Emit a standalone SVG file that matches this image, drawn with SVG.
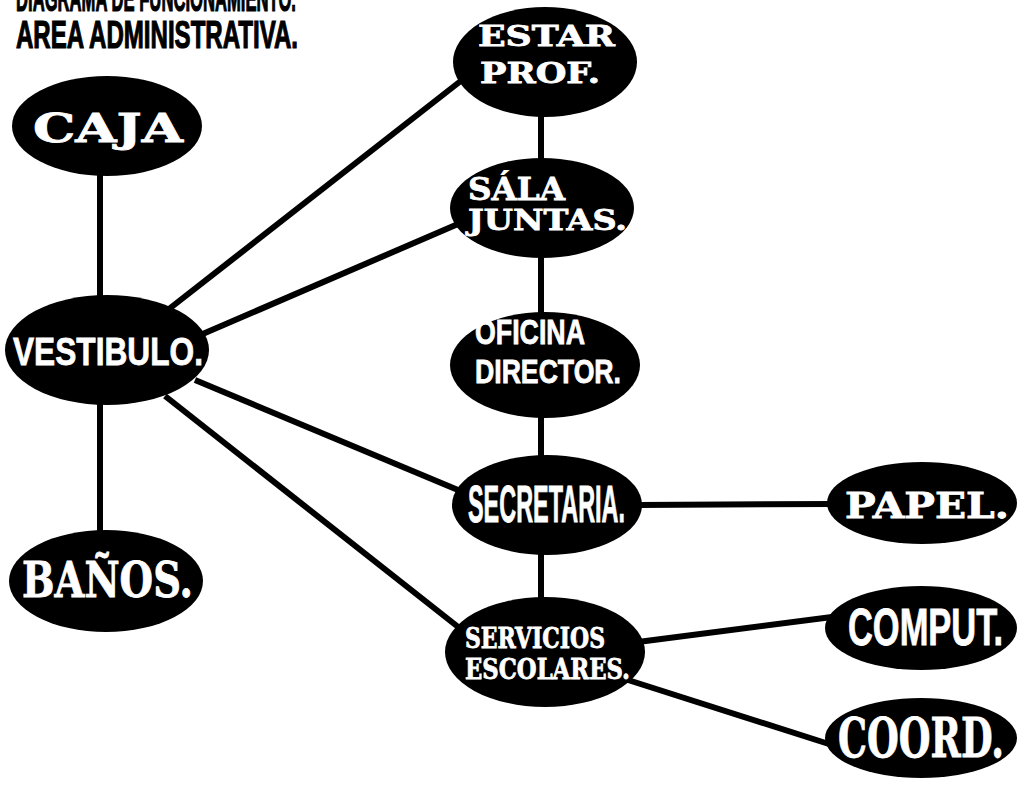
<svg xmlns="http://www.w3.org/2000/svg" width="1018" height="785" viewBox="0 0 1018 785">
<style>
.bg{fill:#ffffff}
.node{fill:#000000}
.conn line{stroke:#000000;stroke-width:6;stroke-linecap:butt}
.w{fill:#ffffff;stroke:#ffffff;stroke-width:0.8;font-family:"DejaVu Serif","Liberation Serif",serif;font-weight:bold}
.n{fill:#ffffff;stroke:#ffffff;stroke-width:0.8;font-family:"Liberation Sans","DejaVu Sans",sans-serif;font-weight:bold}
.t{fill:#000000;stroke:#000000;stroke-width:1.2;font-family:"Liberation Sans","DejaVu Sans",sans-serif;font-weight:bold}
</style>
<rect class="bg" x="0" y="0" width="1018" height="785"/>
<g id="title">
<text class="t" x="16" y="11" font-size="36" textLength="280" lengthAdjust="spacingAndGlyphs">DIAGRAMA DE FUNCIONAMIENTO.</text>
<text class="t" x="16" y="48" font-size="39" textLength="282" lengthAdjust="spacingAndGlyphs">AREA ADMINISTRATIVA.</text>
</g>
<g id="connectors" class="conn">
<line x1="100" y1="175" x2="100" y2="300"/>
<line x1="100" y1="400" x2="100" y2="534"/>
<line x1="160" y1="316" x2="462" y2="80"/>
<line x1="198" y1="336" x2="458" y2="224"/>
<line x1="195" y1="380" x2="458" y2="490"/>
<line x1="165" y1="396" x2="462" y2="630"/>
<line x1="541" y1="112" x2="541" y2="160"/>
<line x1="541" y1="255" x2="541" y2="315"/>
<line x1="541" y1="415" x2="541" y2="458"/>
<line x1="541" y1="552" x2="541" y2="600"/>
<line x1="638" y1="505" x2="832" y2="504"/>
<line x1="638" y1="642" x2="832" y2="617"/>
<line x1="628" y1="680" x2="832" y2="745"/>
</g>
<g id="caja"><ellipse class="node" cx="107" cy="126" rx="95" ry="50"/><text class="w" x="33" y="142" font-size="40" textLength="150" lengthAdjust="spacingAndGlyphs">CAJA</text></g>
<g id="vestibulo"><ellipse class="node" cx="107" cy="350" rx="102" ry="55"/><text class="n" x="13" y="365" font-size="39" textLength="190" lengthAdjust="spacingAndGlyphs">VESTIBULO.</text></g>
<g id="banos"><ellipse class="node" cx="106" cy="581" rx="97" ry="51"/><text class="w" x="22" y="597" font-size="48" textLength="171" lengthAdjust="spacingAndGlyphs">BAÑOS.</text></g>
<g id="estar"><ellipse class="node" cx="545" cy="62" rx="92" ry="55"/><text class="w" x="478" y="46" font-size="28" textLength="137" lengthAdjust="spacingAndGlyphs">ESTAR</text><text class="w" x="480" y="83" font-size="28" textLength="120" lengthAdjust="spacingAndGlyphs">PROF.</text></g>
<g id="sala"><ellipse class="node" cx="542" cy="208" rx="92" ry="50"/><text class="w" x="468" y="200" font-size="31" textLength="97" lengthAdjust="spacingAndGlyphs">SÁLA</text><text class="w" x="468" y="230" font-size="28" textLength="159" lengthAdjust="spacingAndGlyphs">JUNTAS.</text></g>
<g id="oficina"><ellipse class="node" cx="545" cy="365" rx="95" ry="53"/><text class="n" x="475" y="344" font-size="35" textLength="110" lengthAdjust="spacingAndGlyphs">OFICINA</text><text class="n" x="475" y="383" font-size="34" textLength="146" lengthAdjust="spacingAndGlyphs">DIRECTOR.</text></g>
<g id="secretaria"><ellipse class="node" cx="547" cy="505" rx="95" ry="50"/><text class="n" x="468" y="522" font-size="51" textLength="157" lengthAdjust="spacingAndGlyphs">SECRETARIA.</text></g>
<g id="servicios"><ellipse class="node" cx="545" cy="652" rx="100" ry="55"/><text class="w" x="465" y="648" font-size="27" textLength="140" lengthAdjust="spacingAndGlyphs">SERVICIOS</text><text class="w" x="465" y="679" font-size="27" textLength="165" lengthAdjust="spacingAndGlyphs">ESCOLARES.</text></g>
<g id="papel"><ellipse class="node" cx="922" cy="503" rx="95" ry="41"/><text class="w" x="845" y="518" font-size="36" textLength="164" lengthAdjust="spacingAndGlyphs">PAPEL.</text></g>
<g id="comput"><ellipse class="node" cx="921" cy="628" rx="96" ry="42"/><text class="n" x="848" y="645" font-size="51" textLength="155" lengthAdjust="spacingAndGlyphs">COMPUT.</text></g>
<g id="coord"><ellipse class="node" cx="921" cy="738" rx="96" ry="40"/><text class="w" x="838" y="757" font-size="54" textLength="166" lengthAdjust="spacingAndGlyphs">COORD.</text></g>
</svg>
